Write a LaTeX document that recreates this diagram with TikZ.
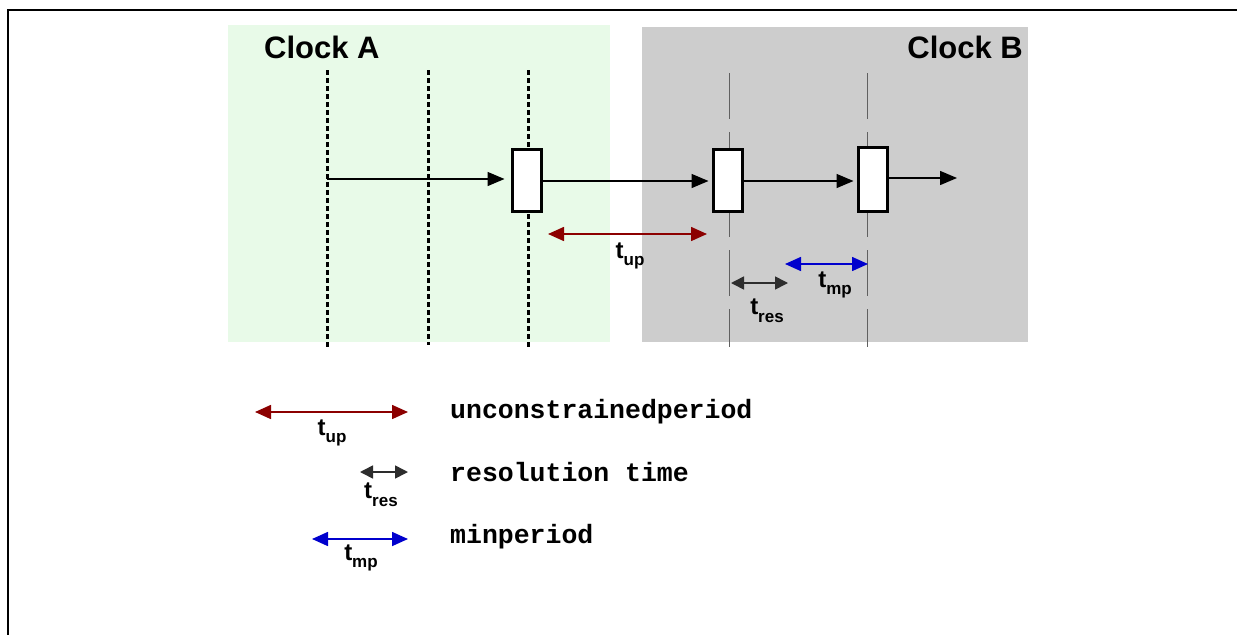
\documentclass[tikz,border=0pt]{standalone}
\usepackage{fontspec}
\setmainfont{Liberation Sans}
\newfontfamily\monob{Liberation Mono}
\usetikzlibrary{arrows.meta}
\definecolor{clkA}{RGB}{232,250,232}
\definecolor{clkB}{RGB}{205,205,205}
\definecolor{dred}{RGB}{140,0,0}
\definecolor{dblue}{RGB}{0,0,205}
\definecolor{dgray}{RGB}{45,45,45}
\newcommand\tlab[1]{\bfseries t\raisebox{-0.32em}{\fontsize{17}{17}\selectfont #1}}
\tikzset{
  x=1pt,y=-1pt,
  frameline/.style={line width=2pt,black},
  clocktitle/.style={font=\fontsize{31}{31}\selectfont\bfseries,inner sep=0pt,anchor=base west},
  dotline/.style={line width=3pt,dash pattern=on 5pt off 3pt},
  thinline/.style={line width=0.9pt,gray!75!black,dash pattern=on 46pt off 13pt},
  regbox/.style={draw,fill=white,line width=3pt,minimum width=29pt,minimum height=62pt,inner sep=0pt},
  flow/.style={line width=1.5pt,-{Triangle[length=17pt,width=14pt]}},
  dim/.style={line width=1.6pt,{Triangle[length=16pt,width=14pt]}-{Triangle[length=16pt,width=14pt]}},
  dimshort/.style={line width=1.6pt,{Triangle[length=13pt,width=13pt]}-{Triangle[length=13pt,width=13pt]}},
  tl/.style={font=\fontsize{24}{24}\selectfont,inner sep=0pt},
  legtext/.style={font=\monob\fontsize{26.5}{26.5}\selectfont\bfseries,inner sep=0pt,anchor=west},
}
\begin{document}
\begin{tikzpicture}
\useasboundingbox (0,0) rectangle (1237,635);
\fill[white] (0,0) rectangle (1237,635);
% frame
\draw[frameline] (1237,10) -- (8,10) -- (8,635);
% clock regions
\fill[clkA] (228,25) rectangle (610,342);
\fill[clkB] (642,27) rectangle (1028,342);
\node[clocktitle] (ca) at (264,58) {Clock A};
\node[clocktitle,anchor=base east] (cb) at (1023,58) {Clock B};
% clock A dotted lines
\draw[dotline] (327,70) -- (327,347);
\draw[dotline] (428,70) -- (428,345);
\draw[dotline] (528,70) -- (528,347);
% clock B thin dashed lines
\draw[thinline] (729,73) -- (729,347);
\draw[thinline] (867,73) -- (867,347);
% registers
\node[regbox] (r1) at (526.5,180.5) {};
\node[regbox] (r2) at (727.5,180.5) {};
\node[regbox,minimum height=64pt] (r3) at (872.5,179.5) {};
\coordinate (s) at (327,179);
\coordinate (e) at (957,178);
\draw[flow,shorten >=6pt] (s) -- (s -| r1.west);
\draw[flow,shorten >=3pt] (r1.east |- 0,181) -- (r2.west |- 0,181);
\draw[flow,shorten >=3pt] (r2.east |- 0,181) -- (r3.west |- 0,181);
\draw[flow] (r3.east |- e) -- (e);
% dimension arrows in the diagram
\coordinate (u1) at (548,234); \coordinate (u2) at (707,234);
\draw[dim,dred] (u1) -- (u2);
\node[tl] (lup) at (630,256) {\tlab{up}};
\coordinate (r1a) at (731,283); \coordinate (r2a) at (788,283);
\draw[dimshort,dgray] (r1a) -- (r2a);
\node[tl] (lres) at (767,311) {\tlab{res}};
\coordinate (m1) at (785,264); \coordinate (m2) at (868,264);
\draw[dim,dblue] (m1) -- (m2);
\node[tl] (lmp) at (835,285) {\tlab{mp}};
% legend
\coordinate (lu1) at (255,412); \coordinate (lu2) at (408,412);
\draw[dim,dred] (lu1) -- (lu2);
\node[tl] (gup) at (332,433) {\tlab{up}};
\node[legtext] (tu) at (450,412) {unconstrainedperiod};
\coordinate (lr1) at (360,472); \coordinate (lr2) at (408,472);
\draw[dimshort,dgray] (lr1) -- (lr2);
\node[tl] (gres) at (381,495) {\tlab{res}};
\node[legtext] (tr) at (450,472) {resolution time};
\coordinate (lm1) at (312,539); \coordinate (lm2) at (408,539);
\draw[dim,dblue] (lm1) -- (lm2);
\node[tl] (gmp) at (361,558) {\tlab{mp}};
\node[legtext] (tm) at (450,537) {minperiod};
\end{tikzpicture}
\end{document}
